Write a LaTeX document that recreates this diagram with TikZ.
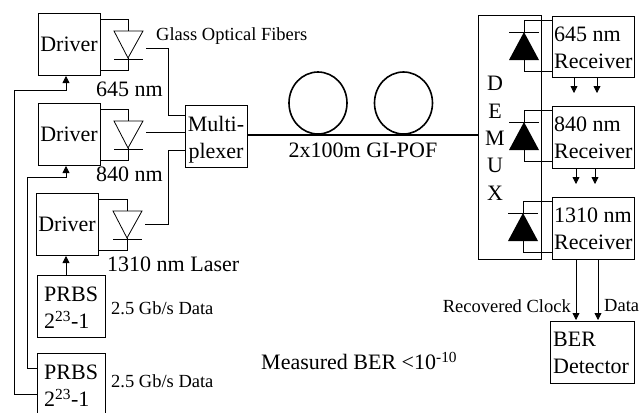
\documentclass[tikz,border=0pt]{standalone}
\usepackage{fontspec}
\setmainfont{Liberation Serif}
\usetikzlibrary{arrows.meta}
\tikzset{
  blockline/.style={line width=0.9pt},
  wire/.style={line width=0.8pt},
  fedge/.style={wire,-{Triangle[length=7pt,width=7pt]}},
  bigtext/.style={inner sep=0pt,font=\fontsize{22}{27}\selectfont},
  smalltext/.style={inner sep=0pt,font=\fontsize{18.5}{22}\selectfont},
}
\begin{document}
\begin{tikzpicture}[x=1pt,y=-1pt,line join=miter]
\useasboundingbox (0,0) rectangle (641,413);
\fill[white] (0,0) rectangle (641,413);
% drivers
\draw[blockline] (38,13) rectangle (100,75);
\node[bigtext] (drva) at (69,44) {Driver};
\draw[blockline] (38,103) rectangle (100,165);
\node[bigtext] (drvb) at (69,134) {Driver};
\draw[blockline] (36,193) rectangle (98,255);
\node[bigtext] (drvc) at (67,224) {Driver};
% prbs
\draw[blockline] (37,275) rectangle (105,337);
\node[bigtext,align=left,anchor=west] (prbsa) at (44,308) {PRBS\\2\textsuperscript{23}-1};
\draw[blockline] (37,353) rectangle (105,414);
\node[bigtext,align=left,anchor=west] (prbsb) at (44,386) {PRBS\\2\textsuperscript{23}-1};
% lasers
\foreach \xa/\ya/\xd in {128/31/100,128/121/100,127/211/98}{
  \draw[wire] (\xa-14,\ya) -- (\xa+15,\ya) -- (\xa,\ya+27) -- cycle;
  \draw[wire] (\xa-14,\ya+28) -- (\xa+15,\ya+28);
  \draw[wire] (\xd,\ya-12) -- (\xa,\ya-12) -- (\xa,\ya);
  \draw[wire] (\xa,\ya+27) -- (\xa,\ya+39) -- (\xd,\ya+39);
}
\node[bigtext,anchor=west] (lma) at (96,89) {645 nm};
\node[bigtext,anchor=west] (lmb) at (96,174) {840 nm};
\node[bigtext,anchor=west] (lmc) at (107,264) {1310 nm Laser};
\node[smalltext,anchor=west] (gof) at (156,36) {Glass Optical Fibers};
\node[smalltext,anchor=west] (rta) at (111,308) {2.5 Gb/s Data};
\node[smalltext,anchor=west] (rtb) at (111,381) {2.5 Gb/s Data};
% mux
\draw[blockline] (185,105) rectangle (247,167);
\node[bigtext,align=center] (mux) at (216,140) {Multi-\\plexer};
\draw[wire] (146,48) -- (168,48) -- (168,115) -- (185,115);
\draw[wire] (146,132) -- (185,132);
\draw[wire] (145,224) -- (168,224) -- (168,150) -- (185,150);
% prbs to drivers
\draw[fedge] (37,394) -- (14,394) -- (14,90) -- (66,90) -- (66,76);
\draw[fedge] (37,368) -- (27,368) -- (27,177) -- (66,177) -- (66,166);
\draw[fedge] (66,275) -- (66,256);
% fiber
\draw[line width=2pt] (247,135) -- (478,135);
\draw[line width=1.6pt] (318,103) ellipse (29 and 31);
\draw[line width=1.6pt] (403.5,103) ellipse (29 and 31);
\node[bigtext] (pof) at (363,150) {2x100m GI-POF};
% demux
\draw[blockline] (478,15) rectangle (541,259);
\foreach \c [count=\i] in {D,E,M,U,X}
  \node[bigtext] (dm\i) at (495,56+\i*27.4) {\c};
% receivers
\foreach \xa/\ya in {524/32,524/122,523/213}{
  \fill (\xa,\ya) -- (\xa+15,\ya+28) -- (\xa-15,\ya+28) -- cycle;
  \draw[wire] (\xa-15,\ya) -- (\xa+15,\ya);
  \draw[wire] (552,\ya-12) -- (\xa,\ya-12) -- (\xa,\ya);
  \draw[wire] (\xa,\ya+28) -- (\xa,\ya+39) -- (552,\ya+39);
}
\draw[blockline] (552,16) rectangle (634,77);
\node[bigtext,align=left,anchor=west] (rxa) at (554,48) {645 nm\\Receiver};
\draw[blockline] (552,106) rectangle (634,168);
\node[bigtext,align=left,anchor=west] (rxb) at (554,138) {840 nm\\Receiver};
\draw[blockline] (552,197) rectangle (634,259);
\node[bigtext,align=left,anchor=west] (rxc) at (554,229) {1310 nm\\Receiver};
\draw[fedge] (574,77) -- (574,93);
\draw[fedge] (597,77) -- (597,93);
\draw[fedge] (576,168) -- (576,184);
\draw[fedge] (595,168) -- (595,184);
% ber
\draw[blockline] (550,321) rectangle (634,383);
\node[bigtext,align=left,anchor=west] (ber) at (553,353) {BER\\Detector};
\draw[fedge] (576,259) -- (576,320);
\draw[fedge] (598,259) -- (598,320);
\node[smalltext,anchor=east] (clk) at (571,306) {Recovered Clock};
\node[smalltext,anchor=west] (dat) at (604,306) {Data};
\node[bigtext,anchor=west] (mber) at (261,361) {Measured BER <10\textsuperscript{-10}};
\end{tikzpicture}
\end{document}
